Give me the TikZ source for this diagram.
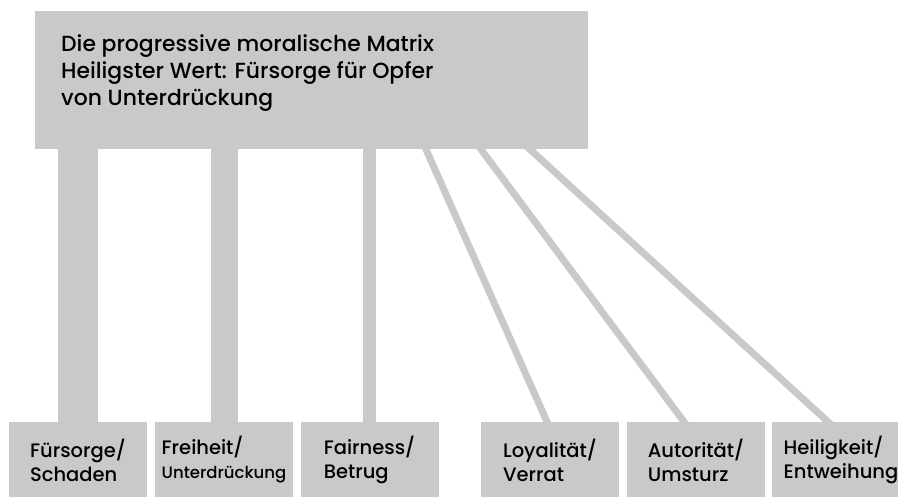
\documentclass[tikz,border=0pt]{standalone}
\usepackage{fontspec}
\setmainfont{Poppins}[UprightFont=* Medium]
\usetikzlibrary{calc}
\definecolor{grau}{RGB}{201,201,201}
\tikzset{
  kasten/.style={fill=grau, minimum width=138pt, minimum height=76pt, inner sep=0pt, align=left, font=\fontsize{19.5}{24}\selectfont},
  strang/.style={draw=grau, line width=7pt, shorten <=-5pt, shorten >=-5pt},
  balken/.style={draw=grau, shorten <=-1pt, shorten >=-1pt},
}

\begin{document}
\begin{tikzpicture}[x=1pt,y=-1pt]
		%%%%% START %%%%%
		\useasboundingbox (0,0) rectangle (898,497);

		\node[fill=grau, minimum width=553pt, minimum height=138pt, inner sep=0pt, anchor=north west] (kopf) at (35,11) {};
		\node[anchor=north west, inner sep=0pt, align=left, font=\fontsize{21.9}{27}\selectfont] (titel) at (61,34) {Die progressive moralische Matrix\\Heiligster Wert: Fürsorge für Opfer\\von Unterdrückung};

		\node[kasten] (fuersorge) at (78,460) {Fürsorge/\\Schaden};
		\node[kasten] (freiheit) at (224,460) {Freiheit/\\\fontsize{16.5}{24}\selectfont Unterdrückung};
		\node[kasten] (fairness) at (369.5,460) {Fairness/\\Betrug};
		\node[kasten] (loyal) at (550,460) {Loyalität/\\Verrat};
		\node[kasten] (autor) at (696,460) {Autorität/\\Umsturz};
		\node[kasten] (heilig) at (841,460) {Heiligkeit/\\Entweihung};

		% senkrechte Balken
		\draw[balken, line width=40pt] (kopf.south -| fuersorge) -- (fuersorge.north);
		\draw[balken, line width=27pt] (kopf.south -| freiheit) -- (freiheit.north);
		\draw[balken, line width=13pt] (kopf.south -| fairness) -- (fairness.north);

		% schraege Linien
		\draw[strang] ([xshift=391pt]kopf.south west) -- ([xshift=-3pt]loyal.north);
		\draw[strang] ([xshift=446pt]kopf.south west) -- ([xshift=-12pt]autor.north);
		\draw[strang] ([xshift=495pt]kopf.south west) -- ([xshift=-13pt]heilig.north);

		%%%%% END %%%%%
	\end{tikzpicture}
\end{document}
